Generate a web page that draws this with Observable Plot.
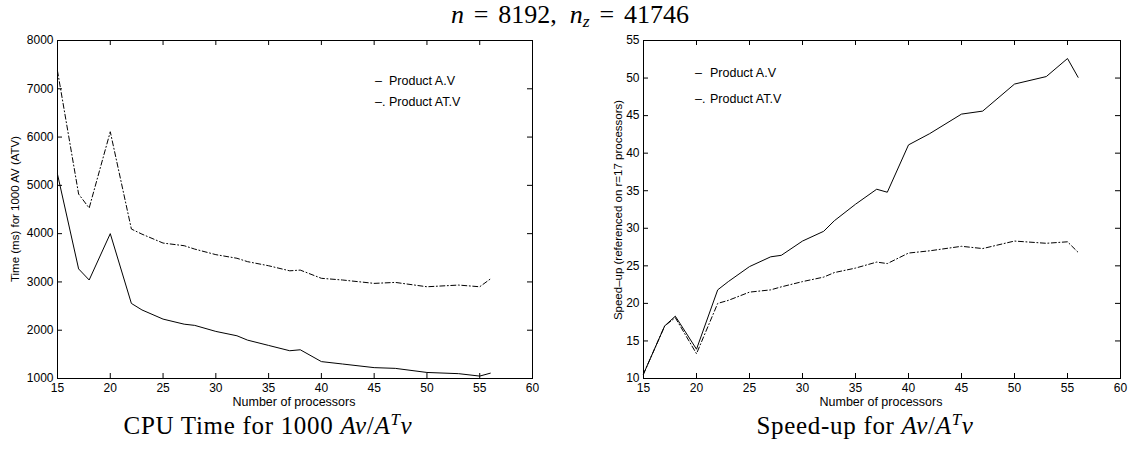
<!DOCTYPE html>
<html><head><meta charset="utf-8">
<script src="https://cdn.jsdelivr.net/npm/d3@7"></script>
<script src="https://cdn.jsdelivr.net/npm/@observablehq/plot@0.6"></script>
<style>
body{margin:0;background:#fff;}
#wrap{position:relative;width:1148px;height:453px;overflow:hidden;font-family:"Liberation Sans",Arial,sans-serif;color:#000;}
.abs{position:absolute;white-space:nowrap;line-height:1;}
.serif{font-family:"Liberation Serif","DejaVu Serif",serif;}
.plot{position:absolute;top:0;}
.lg{font-size:12.5px;}
.cap{font-size:25px;letter-spacing:0.7px;text-align:center;width:500px;}
.xl{font-size:12.5px;text-align:center;width:300px;}
.yl{font-size:11.5px;transform:translate(-50%,-50%) rotate(-90deg);}
.eq{margin:0 0.38em;}
</style></head><body><div id="wrap"></div>
<script>
const processors = [15,17,18,20,22,23,25,27,28,30,32,33,35,37,38,40,42,45,47,50,53,55,56];
const timeAV   = [5230,3270,3040,4000,2555,2420,2230,2125,2100,1975,1885,1795,1685,1575,1595,1350,1300,1225,1210,1125,1100,1050,1110];
const timeATV  = [7370,4820,4530,6110,4095,3990,3805,3750,3680,3565,3490,3420,3335,3230,3245,3075,3040,2970,2990,2900,2935,2900,3060];
const speedAV  = [10.6,17.0,18.3,13.9,21.8,22.9,24.9,26.2,26.4,28.3,29.6,31.0,33.2,35.2,34.8,41.1,42.6,45.2,45.6,49.2,50.2,52.6,50.1];
const speedATV = [10.6,17.0,18.1,13.3,20.0,20.4,21.5,21.8,22.2,22.9,23.5,24.1,24.7,25.5,25.3,26.7,27.0,27.6,27.3,28.3,28.0,28.2,26.8];
const xTicks = [15,20,25,30,35,40,45,50,55,60];
const timeTicks = [1000,2000,3000,4000,5000,6000,7000,8000];
const speedTicks = [10,15,20,25,30,35,40,45,50,55];
const legendMarks = ["\u2013", "\u2013."];
const legendLabels = ["Product A.V", "Product AT.V"];

const wrap = document.getElementById("wrap");
const dashDot = "5,2.5,1,2.5";

function makePlot(rows, keyA, keyB, yDomain, yTicks, m) {
  const W = 574, H = 400;
  const iw = W - m.left - m.right, ih = H - m.top - m.bottom;
  const tl = 5;
  return Plot.plot({
    width: W, height: H,
    marginLeft: m.left, marginRight: m.right, marginTop: m.top, marginBottom: m.bottom,
    style: {fontFamily: "'Liberation Sans', Arial, sans-serif", fontSize: "12px", background: "transparent", color: "black"},
    x: {domain: [15, 60]},
    y: {domain: yDomain},
    marks: [
      Plot.ruleX(xTicks, {x: d => d, insetTop: ih - tl, stroke: "black"}),
      Plot.ruleX(xTicks, {x: d => d, insetBottom: ih - tl, stroke: "black"}),
      Plot.ruleY(yTicks, {y: d => d, insetRight: iw - tl, stroke: "black"}),
      Plot.ruleY(yTicks, {y: d => d, insetLeft: iw - tl, stroke: "black"}),
      Plot.axisX(xTicks, {tickSize: 0, tickPadding: 5, label: null, fontSize: 12, fill: "black", tickFormat: d3.format("d")}),
      Plot.axisY(yTicks, {tickSize: 0, tickPadding: 4, label: null, fontSize: 12, fill: "black", tickFormat: d3.format("d")}),
      Plot.line(rows, {x: "p", y: keyA, stroke: "black", strokeWidth: 1}),
      Plot.line(rows, {x: "p", y: keyB, stroke: "black", strokeWidth: 1, strokeDasharray: dashDot}),
      Plot.frame({stroke: "black", strokeWidth: 1})
    ]
  });
}

const rows = processors.map((p, i) => ({p, tav: timeAV[i], tatv: timeATV[i], sav: speedAV[i], satv: speedATV[i]}));

const p1 = makePlot(rows, "tav", "tatv", [1000, 8000], timeTicks, {left: 57, right: 42, top: 40, bottom: 22});
p1.classList.add("plot"); p1.style.left = "0px";
wrap.appendChild(p1);
const p2 = makePlot(rows, "sav", "satv", [10, 55], speedTicks, {left: 69, right: 28, top: 40, bottom: 22});
p2.classList.add("plot"); p2.style.left = "574px";
wrap.appendChild(p2);

function addDiv(html, cls, css) {
  const d = document.createElement("div");
  d.className = "abs " + cls;
  d.innerHTML = html;
  Object.assign(d.style, css);
  wrap.appendChild(d);
  return d;
}
// title
addDiv('<i>n</i><span class="eq">=</span>8192,<span style="display:inline-block;width:0.5em"></span><i>n<sub style="font-size:0.68em;vertical-align:-0.25em">z</sub></i><span class="eq">=</span>41746',
  "serif", {left: "-4px", width: "1148px", textAlign: "center", top: "1px", fontSize: "26px", lineHeight: "1.1"});
// captions
addDiv('CPU Time for 1000 <i>Av</i>/<i>A<sup style="font-size:0.68em;vertical-align:0.55em">T</sup>v</i>', "serif cap", {left: "18px", top: "411px"});
addDiv('Speed-up for <i>Av</i>/<i>A<sup style="font-size:0.68em;vertical-align:0.55em">T</sup>v</i>', "serif cap", {left: "615px", top: "411px"});
// x labels
addDiv("Number of processors", "xl", {left: "144px", top: "396px"});
addDiv("Number of processors", "xl", {left: "731px", top: "396px"});
// y labels
addDiv("Time (ms) for 1000 AV (ATV)", "yl", {left: "16px", top: "209px"});
addDiv("Speed\u2013up (referenced on r=17 processors)", "yl", {left: "619px", top: "210px"});
// legends
const legendPos = [
  {x: 375, tx: 389, y: [74.5, 95.5]},
  {x: 695, tx: 710, y: [67, 93]}
];
legendPos.forEach(pos => {
  legendLabels.forEach((lab, i) => {
    addDiv(legendMarks[i], "lg", {left: pos.x + "px", top: pos.y[i] + "px"});
    addDiv(lab, "lg", {left: pos.tx + "px", top: pos.y[i] + "px"});
  });
});
</script></body></html>
